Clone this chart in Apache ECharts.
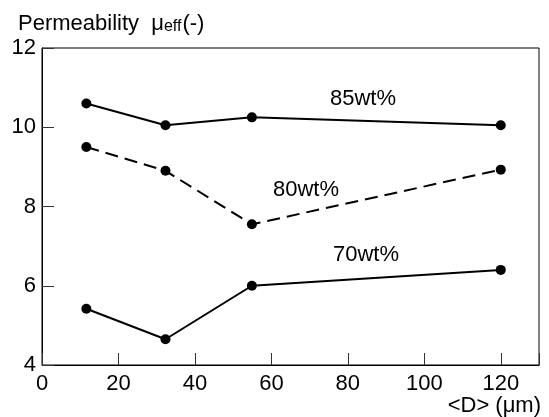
<!DOCTYPE html>
<html><head><meta charset="utf-8">
<script src="https://cdn.jsdelivr.net/npm/echarts@6/dist/echarts.min.js"></script>
<style>html,body{margin:0;padding:0;background:#fff}#c{width:549px;height:417px}</style>
</head><body><div id="c"></div>
<script>
const diameters = [11.6, 32.3, 54.9, 120];
const perm85 = [10.6, 10.05, 10.25, 10.05];
const perm80 = [9.5, 8.9, 7.55, 8.93];
const perm70 = [5.42, 4.65, 6.0, 6.4];
const seriesNames = ['85wt%', '80wt%', '70wt%'];
const xTicks = [0, 20, 40, 60, 80, 100, 120];
const yTicks = [4, 6, 8, 10, 12];

const FONT = 'Liberation Sans, Arial, sans-serif';
const FS = 22;
const pair = (ys) => diameters.map((x, i) => [x, ys[i]]);
const chart = echarts.init(document.getElementById('c'), null, {renderer: 'canvas'});
const mk = (name, ys, dashed) => ({
  name, type: 'line', data: pair(ys), symbol: 'circle', symbolSize: 10,
  itemStyle: {color: '#000'},
  lineStyle: {color: '#000', width: 2, type: dashed ? [13, 7] : 'solid'},
  animation: false
});
chart.setOption({
  animation: false,
  textStyle: {fontFamily: FONT},
  grid: {left: 42, right: 10, top: 48, bottom: 52, show: true, borderColor: '#000', borderWidth: 1},
  title: {
    left: 13, top: 8,
    text: '{a|Permeability  }{b|μ}{c|eff}{a|(-)}',
    textStyle: {
      fontWeight: 'normal',
      rich: {
        a: {fontSize: 22, fontFamily: FONT, color: '#000', fontWeight: 'normal', verticalAlign: 'bottom'},
        b: {fontSize: 22, fontFamily: FONT, color: '#000', fontWeight: 'normal', verticalAlign: 'bottom'},
        c: {fontSize: 16, fontFamily: FONT, color: '#000', fontWeight: 'normal', verticalAlign: 'bottom', padding: [0, 1, 0, 0]}
      }
    }
  },
  xAxis: {
    type: 'value', min: 0, max: 130, interval: 20,
    axisLine: {lineStyle: {color: '#000', width: 1}},
    axisTick: {inside: true, length: 12, lineStyle: {color: '#333'}},
    splitLine: {show: false},
    axisLabel: {
      fontSize: FS, color: '#000', margin: 8, fontFamily: FONT,
      formatter: v => xTicks.includes(v) ? String(v) : ''
    }
  },
  yAxis: {
    type: 'value', min: 4, max: 12, interval: 2,
    axisLine: {show: true, lineStyle: {color: '#000', width: 1}},
    axisTick: {show: true, inside: true, length: 12, lineStyle: {color: '#333'}},
    splitLine: {show: false},
    axisLabel: {
      fontSize: FS, color: '#000', margin: 6, fontFamily: FONT,
      formatter: v => yTicks.includes(v) ? String(v) : ''
    }
  },
  graphic: [
    {type: 'text', x: 363, y: 99, style: {text: seriesNames[0], font: FS + 'px ' + FONT, fill: '#000', textAlign: 'center', textVerticalAlign: 'middle'}},
    {type: 'text', x: 306, y: 190, style: {text: seriesNames[1], font: FS + 'px ' + FONT, fill: '#000', textAlign: 'center', textVerticalAlign: 'middle'}},
    {type: 'text', x: 366, y: 255, style: {text: seriesNames[2], font: FS + 'px ' + FONT, fill: '#000', textAlign: 'center', textVerticalAlign: 'middle'}},
    {type: 'text', x: 541, y: 406, style: {text: '<D> (μm)', font: FS + 'px ' + FONT, fill: '#000', textAlign: 'right', textVerticalAlign: 'middle'}}
  ],
  series: [mk(seriesNames[0], perm85, false), mk(seriesNames[1], perm80, true), mk(seriesNames[2], perm70, false)]
});
</script></body></html>
